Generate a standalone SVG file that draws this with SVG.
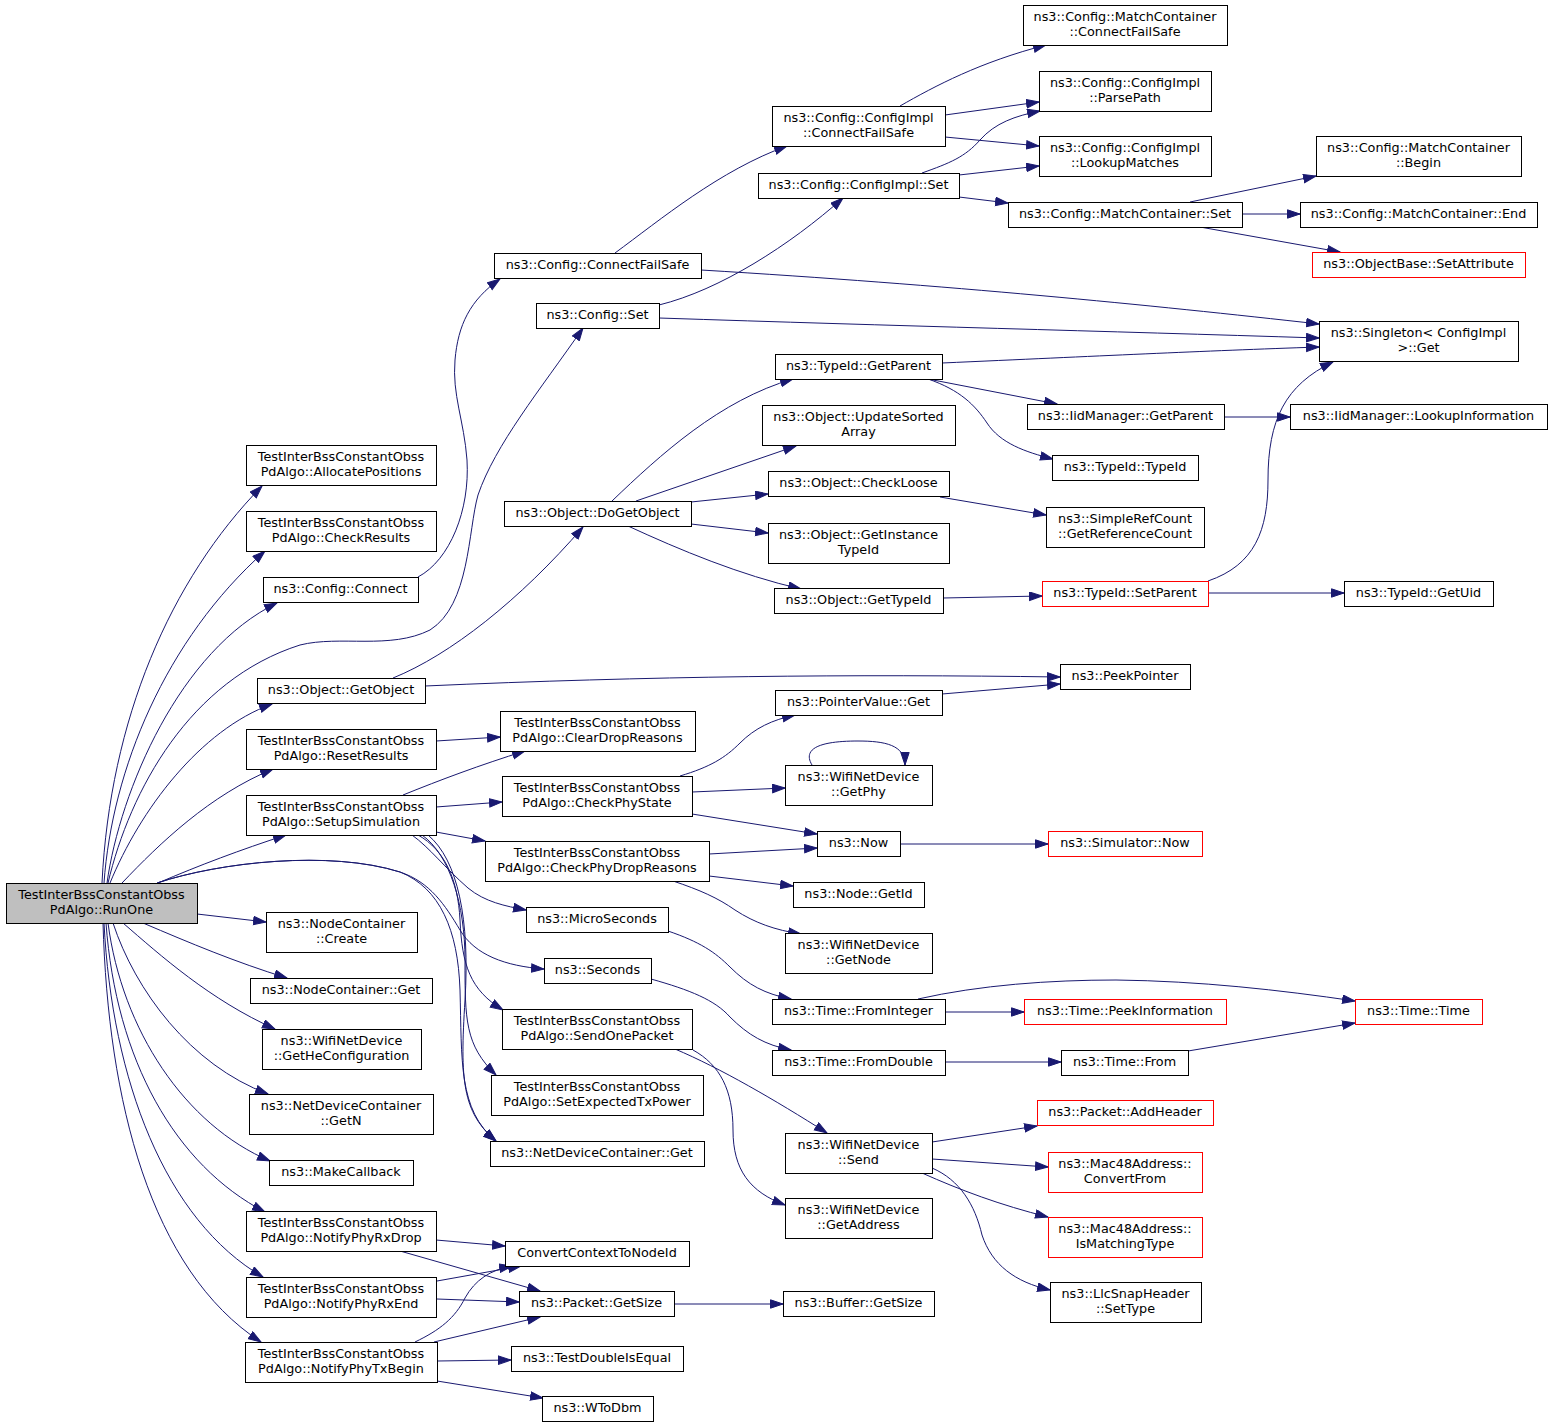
<svg xmlns="http://www.w3.org/2000/svg" width="1552" height="1428" viewBox="0 0 1552 1428">
<style>
.n rect{fill:#fff;stroke:#000;stroke-width:1}
.n.root rect{fill:#bfbfbf}
.n.red rect{stroke:#ff0000}
text{font-family:"DejaVu Sans","Liberation Sans",sans-serif;font-size:12.8px;text-anchor:middle;fill:#000}
.e path{fill:none;stroke:#191970;stroke-width:1;marker-end:url(#a)}
</style>
<defs>
<marker id="a" markerUnits="userSpaceOnUse" viewBox="0 0 14 10" markerWidth="14" markerHeight="10" refX="13" refY="4.7" orient="auto">
<path d="M0.5,0.5 L13,4.7 L0.5,8.9 z" fill="#191970" stroke="#191970" stroke-width="1"/>
</marker>
</defs>
<rect width="1552" height="1428" fill="#fff"/>
<g id="edges" class="e">
<path d="M102,883 C110,720 170,580 262,486"/>
<path d="M104,883 C112,770 165,640 265,551"/>
<path d="M107,883 C120,790 180,650 277,603"/>
<path d="M108,883 C130,790 190,680 300,645 C340,635 390,650 430,630 C470,605 468,530 478,495 C495,445 540,390 583,328"/>
<path d="M418,577 C450,560 470,510 467,460 C464,420 452,395 455,360 C458,325 470,300 500,279"/>
<path d="M110,883 C140,810 200,730 272,704"/>
<path d="M122,883 C160,843 210,795 273,769"/>
<path d="M158,883 C200,865 240,850 286,835"/>
<path d="M157,883 C220,862 330,850 400,872 C430,882 445,905 460,930 C475,955 505,966 544,969"/>
<path d="M157,883 C220,862 330,850 400,872 C440,888 458,930 460,990 C462,1060 458,1110 496,1141"/>
<path d="M412,835 C430,848 445,868 468,888 C485,902 505,906 526,910"/>
<path d="M418,835 C445,850 458,880 460,920 C462,965 470,990 503,1010"/>
<path d="M422,835 C450,855 465,905 465,960 C465,1020 465,1045 496,1075"/>
<path d="M428,835 C458,860 470,920 465,1000 C460,1080 462,1112 496,1141"/>
<path d="M403,795 C440,780 480,765 525,751"/>
<path d="M436,807 L502,802"/>
<path d="M436,832 L485,841"/>
<path d="M436,741 L500,737"/>
<path d="M393,678 C450,655 520,600 583,527"/>
<path d="M425,686 C650,676 850,674 1060,677"/>
<path d="M615,253 C660,220 720,170 787,146"/>
<path d="M701,270 C950,285 1150,305 1319,324"/>
<path d="M659,305 C720,290 790,245 843,198"/>
<path d="M659,318 C900,326 1100,331 1319,338"/>
<path d="M942,363 C1100,356 1200,351 1319,347"/>
<path d="M900,106 C935,86 980,62 1046,45"/>
<path d="M945,115 L1039,102"/>
<path d="M945,137 L1039,146"/>
<path d="M922,173 C950,163 965,157 980,140 C995,123 1015,116 1040,111"/>
<path d="M959,175 L1039,166"/>
<path d="M959,197 L1008,203"/>
<path d="M1190,202 L1316,176"/>
<path d="M1242,214 L1300,214"/>
<path d="M1200,227 L1340,252"/>
<path d="M928,379 L1057,404"/>
<path d="M928,379 C960,390 975,405 987,423 C1000,443 1025,452 1053,459"/>
<path d="M1224,417 L1290,417"/>
<path d="M612,501 C660,455 720,400 793,379"/>
<path d="M636,501 L796,446"/>
<path d="M691,502 L768,494"/>
<path d="M691,524 L768,533"/>
<path d="M628,526 C680,550 740,575 801,589"/>
<path d="M940,497 L1046,515"/>
<path d="M943,598 L1042,596"/>
<path d="M1208,593 L1344,593"/>
<path d="M1208,581 C1255,565 1268,530 1268,480 C1268,420 1285,385 1333,362"/>
<path d="M942,694 L1060,684"/>
<path d="M680,776 C710,767 725,758 740,743 C755,728 772,720 795,715"/>
<path d="M692,792 L785,788"/>
<path d="M692,814 L817,834"/>
<path d="M812,765 C800,745 830,741 858,741 C885,741 905,745 905,765"/>
<path d="M709,854 L817,848"/>
<path d="M709,876 L793,886"/>
<path d="M673,881 C700,890 718,898 735,910 C755,923 775,930 801,934"/>
<path d="M900,844 L1048,844"/>
<path d="M668,931 C700,942 715,952 730,967 C748,985 765,994 791,999"/>
<path d="M651,979 C690,990 715,1000 730,1017 C748,1035 765,1045 791,1050"/>
<path d="M945,1012 L1024,1012"/>
<path d="M918,999 C980,985 1050,980 1116,980 C1200,981 1280,990 1355,1001"/>
<path d="M945,1062 L1061,1062"/>
<path d="M1188,1051 L1355,1023"/>
<path d="M675,1049 C720,1068 775,1100 827,1133"/>
<path d="M693,1050 C720,1065 733,1090 733,1130 C733,1170 750,1192 785,1205"/>
<path d="M932,1142 L1037,1126"/>
<path d="M932,1159 L1048,1167"/>
<path d="M922,1173 C960,1190 1000,1205 1048,1217"/>
<path d="M932,1168 C960,1180 975,1205 982,1235 C992,1265 1015,1282 1050,1290"/>
<path d="M436,1240 L505,1246"/>
<path d="M400,1251 L540,1291"/>
<path d="M437,1281 L521,1266"/>
<path d="M437,1299 L519,1302"/>
<path d="M415,1342 C440,1330 455,1318 465,1298 C475,1280 490,1270 512,1266"/>
<path d="M434,1342 L540,1317"/>
<path d="M437,1361 L511,1360"/>
<path d="M437,1381 L543,1398"/>
<path d="M674,1304 L783,1304"/>
<path d="M197,914 L266,922"/>
<path d="M143,923 C190,943 235,962 287,978"/>
<path d="M123,923 C160,955 210,1000 275,1029"/>
<path d="M113,923 C135,990 190,1065 268,1094"/>
<path d="M108,923 C122,1030 185,1125 270,1161"/>
<path d="M106,923 C116,1060 175,1165 265,1212"/>
<path d="M104,923 C112,1080 165,1220 263,1277"/>
<path d="M103,923 C108,1100 150,1270 261,1342"/>
</g>
<g id="n0" class="n root"><rect x="6.5" y="883.5" width="191" height="40"/><text x="101.5" y="899.2">TestInterBssConstantObss</text><text x="101.5" y="913.8">PdAlgo::RunOne</text></g>
<g id="n1" class="n"><rect x="246.5" y="445.5" width="190" height="40"/><text x="341" y="461.2">TestInterBssConstantObss</text><text x="341" y="475.8">PdAlgo::AllocatePositions</text></g>
<g id="n2" class="n"><rect x="246.5" y="511.5" width="190" height="40"/><text x="341" y="527.2">TestInterBssConstantObss</text><text x="341" y="541.8">PdAlgo::CheckResults</text></g>
<g id="n3" class="n"><rect x="263.5" y="577.5" width="155" height="25"/><text x="340.5" y="593">ns3::Config::Connect</text></g>
<g id="n4" class="n"><rect x="257.5" y="678.5" width="168" height="25"/><text x="341" y="694">ns3::Object::GetObject</text></g>
<g id="n5" class="n"><rect x="246.5" y="729.5" width="190" height="40"/><text x="341" y="745.2">TestInterBssConstantObss</text><text x="341" y="759.8">PdAlgo::ResetResults</text></g>
<g id="n6" class="n"><rect x="246.5" y="795.5" width="190" height="40"/><text x="341" y="811.2">TestInterBssConstantObss</text><text x="341" y="825.8">PdAlgo::SetupSimulation</text></g>
<g id="n7" class="n"><rect x="266.5" y="912.5" width="151" height="40"/><text x="341.5" y="928.2">ns3::NodeContainer</text><text x="341.5" y="942.8">::Create</text></g>
<g id="n8" class="n"><rect x="250.5" y="978.5" width="182" height="25"/><text x="341" y="994">ns3::NodeContainer::Get</text></g>
<g id="n9" class="n"><rect x="262.5" y="1029.5" width="159" height="40"/><text x="341.5" y="1045.2">ns3::WifiNetDevice</text><text x="341.5" y="1059.8">::GetHeConfiguration</text></g>
<g id="n10" class="n"><rect x="249.5" y="1094.5" width="184" height="40"/><text x="341" y="1110.2">ns3::NetDeviceContainer</text><text x="341" y="1124.8">::GetN</text></g>
<g id="n11" class="n"><rect x="269.5" y="1160.5" width="144" height="25"/><text x="341" y="1176">ns3::MakeCallback</text></g>
<g id="n12" class="n"><rect x="246.5" y="1211.5" width="190" height="40"/><text x="341" y="1227.2">TestInterBssConstantObss</text><text x="341" y="1241.8">PdAlgo::NotifyPhyRxDrop</text></g>
<g id="n13" class="n"><rect x="246.5" y="1277.5" width="190" height="40"/><text x="341" y="1293.2">TestInterBssConstantObss</text><text x="341" y="1307.8">PdAlgo::NotifyPhyRxEnd</text></g>
<g id="n14" class="n"><rect x="245.5" y="1342.5" width="192" height="40"/><text x="341" y="1358.2">TestInterBssConstantObss</text><text x="341" y="1372.8">PdAlgo::NotifyPhyTxBegin</text></g>
<g id="n15" class="n"><rect x="494.5" y="253.5" width="207" height="25"/><text x="597.5" y="269">ns3::Config::ConnectFailSafe</text></g>
<g id="n16" class="n"><rect x="536.5" y="303.5" width="123" height="25"/><text x="597.5" y="319">ns3::Config::Set</text></g>
<g id="n17" class="n"><rect x="504.5" y="501.5" width="187" height="25"/><text x="597.5" y="517">ns3::Object::DoGetObject</text></g>
<g id="n18" class="n"><rect x="500.5" y="711.5" width="195" height="40"/><text x="597.5" y="727.2">TestInterBssConstantObss</text><text x="597.5" y="741.8">PdAlgo::ClearDropReasons</text></g>
<g id="n19" class="n"><rect x="502.5" y="776.5" width="190" height="40"/><text x="597" y="792.2">TestInterBssConstantObss</text><text x="597" y="806.8">PdAlgo::CheckPhyState</text></g>
<g id="n20" class="n"><rect x="485.5" y="841.5" width="224" height="40"/><text x="597" y="857.2">TestInterBssConstantObss</text><text x="597" y="871.8">PdAlgo::CheckPhyDropReasons</text></g>
<g id="n21" class="n"><rect x="526.5" y="907.5" width="142" height="25"/><text x="597" y="923">ns3::MicroSeconds</text></g>
<g id="n22" class="n"><rect x="544.5" y="958.5" width="107" height="25"/><text x="597.5" y="974">ns3::Seconds</text></g>
<g id="n23" class="n"><rect x="502.5" y="1009.5" width="190" height="40"/><text x="597" y="1025.2">TestInterBssConstantObss</text><text x="597" y="1039.8">PdAlgo::SendOnePacket</text></g>
<g id="n24" class="n"><rect x="491.5" y="1075.5" width="212" height="40"/><text x="597" y="1091.2">TestInterBssConstantObss</text><text x="597" y="1105.8">PdAlgo::SetExpectedTxPower</text></g>
<g id="n25" class="n"><rect x="490.5" y="1141.5" width="214" height="25"/><text x="597" y="1157">ns3::NetDeviceContainer::Get</text></g>
<g id="n26" class="n"><rect x="505.5" y="1241.5" width="184" height="25"/><text x="597" y="1257">ConvertContextToNodeId</text></g>
<g id="n27" class="n"><rect x="519.5" y="1291.5" width="155" height="25"/><text x="596.5" y="1307">ns3::Packet::GetSize</text></g>
<g id="n28" class="n"><rect x="511.5" y="1346.5" width="172" height="25"/><text x="597" y="1362">ns3::TestDoubleIsEqual</text></g>
<g id="n29" class="n"><rect x="542.5" y="1396.5" width="111" height="25"/><text x="597.5" y="1412">ns3::WToDbm</text></g>
<g id="n30" class="n"><rect x="772.5" y="106.5" width="173" height="40"/><text x="858.5" y="122.2">ns3::Config::ConfigImpl</text><text x="858.5" y="136.8">::ConnectFailSafe</text></g>
<g id="n31" class="n"><rect x="758.5" y="173.5" width="201" height="25"/><text x="858.5" y="189">ns3::Config::ConfigImpl::Set</text></g>
<g id="n32" class="n"><rect x="775.5" y="354.5" width="167" height="25"/><text x="858.5" y="370">ns3::TypeId::GetParent</text></g>
<g id="n33" class="n"><rect x="762.5" y="405.5" width="193" height="40"/><text x="858.5" y="421.2">ns3::Object::UpdateSorted</text><text x="858.5" y="435.8">Array</text></g>
<g id="n34" class="n"><rect x="768.5" y="471.5" width="181" height="25"/><text x="858.5" y="487">ns3::Object::CheckLoose</text></g>
<g id="n35" class="n"><rect x="768.5" y="523.5" width="181" height="40"/><text x="858.5" y="539.2">ns3::Object::GetInstance</text><text x="858.5" y="553.8">TypeId</text></g>
<g id="n36" class="n"><rect x="774.5" y="588.5" width="169" height="25"/><text x="858.5" y="604">ns3::Object::GetTypeId</text></g>
<g id="n37" class="n"><rect x="775.5" y="690.5" width="167" height="25"/><text x="858.5" y="706">ns3::PointerValue::Get</text></g>
<g id="n38" class="n"><rect x="785.5" y="765.5" width="147" height="40"/><text x="858.5" y="781.2">ns3::WifiNetDevice</text><text x="858.5" y="795.8">::GetPhy</text></g>
<g id="n39" class="n"><rect x="817.5" y="831.5" width="83" height="25"/><text x="858.5" y="847">ns3::Now</text></g>
<g id="n40" class="n"><rect x="793.5" y="882.5" width="131" height="25"/><text x="858.5" y="898">ns3::Node::GetId</text></g>
<g id="n41" class="n"><rect x="785.5" y="933.5" width="147" height="40"/><text x="858.5" y="949.2">ns3::WifiNetDevice</text><text x="858.5" y="963.8">::GetNode</text></g>
<g id="n42" class="n"><rect x="772.5" y="999.5" width="173" height="25"/><text x="858.5" y="1015">ns3::Time::FromInteger</text></g>
<g id="n43" class="n"><rect x="772.5" y="1050.5" width="173" height="25"/><text x="858.5" y="1066">ns3::Time::FromDouble</text></g>
<g id="n44" class="n"><rect x="785.5" y="1133.5" width="147" height="40"/><text x="858.5" y="1149.2">ns3::WifiNetDevice</text><text x="858.5" y="1163.8">::Send</text></g>
<g id="n45" class="n"><rect x="785.5" y="1198.5" width="147" height="40"/><text x="858.5" y="1214.2">ns3::WifiNetDevice</text><text x="858.5" y="1228.8">::GetAddress</text></g>
<g id="n46" class="n"><rect x="783.5" y="1291.5" width="151" height="25"/><text x="858.5" y="1307">ns3::Buffer::GetSize</text></g>
<g id="n47" class="n"><rect x="1023.5" y="5.5" width="204" height="40"/><text x="1125" y="21.2">ns3::Config::MatchContainer</text><text x="1125" y="35.8">::ConnectFailSafe</text></g>
<g id="n48" class="n"><rect x="1039.5" y="71.5" width="172" height="40"/><text x="1125" y="87.2">ns3::Config::ConfigImpl</text><text x="1125" y="101.8">::ParsePath</text></g>
<g id="n49" class="n"><rect x="1039.5" y="136.5" width="172" height="40"/><text x="1125" y="152.2">ns3::Config::ConfigImpl</text><text x="1125" y="166.8">::LookupMatches</text></g>
<g id="n50" class="n"><rect x="1008.5" y="202.5" width="234" height="25"/><text x="1125" y="218">ns3::Config::MatchContainer::Set</text></g>
<g id="n51" class="n"><rect x="1027.5" y="404.5" width="197" height="25"/><text x="1125.5" y="420">ns3::IidManager::GetParent</text></g>
<g id="n52" class="n"><rect x="1052.5" y="455.5" width="146" height="25"/><text x="1125" y="471">ns3::TypeId::TypeId</text></g>
<g id="n53" class="n"><rect x="1046.5" y="507.5" width="158" height="40"/><text x="1125" y="523.2">ns3::SimpleRefCount</text><text x="1125" y="537.8">::GetReferenceCount</text></g>
<g id="n54" class="n red"><rect x="1042.5" y="581.5" width="166" height="25"/><text x="1125" y="597">ns3::TypeId::SetParent</text></g>
<g id="n55" class="n"><rect x="1060.5" y="664.5" width="130" height="25"/><text x="1125" y="680">ns3::PeekPointer</text></g>
<g id="n56" class="n red"><rect x="1048.5" y="831.5" width="154" height="25"/><text x="1125" y="847">ns3::Simulator::Now</text></g>
<g id="n57" class="n red"><rect x="1024.5" y="999.5" width="202" height="25"/><text x="1125" y="1015">ns3::Time::PeekInformation</text></g>
<g id="n58" class="n"><rect x="1061.5" y="1050.5" width="127" height="25"/><text x="1124.5" y="1066">ns3::Time::From</text></g>
<g id="n59" class="n red"><rect x="1037.5" y="1100.5" width="176" height="25"/><text x="1125" y="1116">ns3::Packet::AddHeader</text></g>
<g id="n60" class="n red"><rect x="1048.5" y="1152.5" width="154" height="40"/><text x="1125" y="1168.2">ns3::Mac48Address::</text><text x="1125" y="1182.8">ConvertFrom</text></g>
<g id="n61" class="n red"><rect x="1048.5" y="1217.5" width="154" height="40"/><text x="1125" y="1233.2">ns3::Mac48Address::</text><text x="1125" y="1247.8">IsMatchingType</text></g>
<g id="n62" class="n"><rect x="1050.5" y="1282.5" width="151" height="40"/><text x="1125.5" y="1298.2">ns3::LlcSnapHeader</text><text x="1125.5" y="1312.8">::SetType</text></g>
<g id="n63" class="n"><rect x="1316.5" y="136.5" width="205" height="40"/><text x="1418.5" y="152.2">ns3::Config::MatchContainer</text><text x="1418.5" y="166.8">::Begin</text></g>
<g id="n64" class="n"><rect x="1300.5" y="202.5" width="237" height="25"/><text x="1418.5" y="218">ns3::Config::MatchContainer::End</text></g>
<g id="n65" class="n red"><rect x="1312.5" y="252.5" width="213" height="25"/><text x="1418.5" y="268">ns3::ObjectBase::SetAttribute</text></g>
<g id="n66" class="n"><rect x="1319.5" y="321.5" width="199" height="40"/><text x="1418.5" y="337.2">ns3::Singleton&lt; ConfigImpl</text><text x="1418.5" y="351.8">&gt;::Get</text></g>
<g id="n67" class="n"><rect x="1290.5" y="404.5" width="257" height="25"/><text x="1418.5" y="420">ns3::IidManager::LookupInformation</text></g>
<g id="n68" class="n"><rect x="1344.5" y="581.5" width="149" height="25"/><text x="1418.5" y="597">ns3::TypeId::GetUid</text></g>
<g id="n69" class="n red"><rect x="1355.5" y="999.5" width="127" height="25"/><text x="1418.5" y="1015">ns3::Time::Time</text></g>
</svg>
